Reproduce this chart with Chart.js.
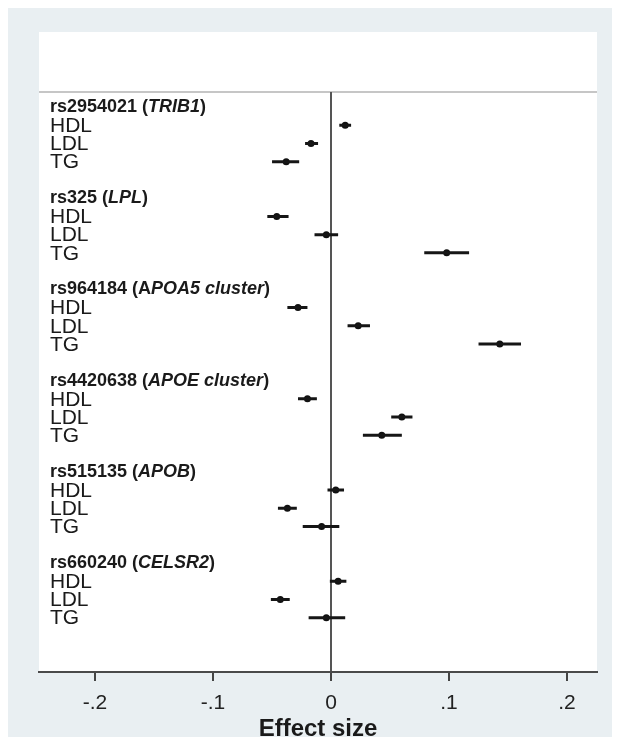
<!DOCTYPE html>
<html lang="en">
<head>
    <meta charset="UTF-8">
    <title>Effect size forest plot</title>
    <style>
        body {
            margin: 0;
            background-color: #ffffff;
        }
        .backdrop {
            position: absolute;
            left: 8px;
            top: 8px;
            width: 604px;
            height: 729px;
            background-color: #e9eff2;
        }
        #forest {
            position: absolute;
            left: 0;
            top: 0;
        }
    </style>
    <script src="https://cdn.jsdelivr.net/npm/chart.js"></script>
</head>
<body>
    <div class="backdrop"></div>
    <canvas id="forest" width="618" height="737"></canvas>

    <script>
        // SNPs and their nearby genes, one block per SNP
        const snps = ['rs2954021', 'rs325', 'rs964184', 'rs4420638', 'rs515135', 'rs660240'];
        const genes = ['TRIB1', 'LPL', 'POA5 cluster', 'APOE cluster', 'APOB', 'CELSR2'];
        const genePrefix = ['', '', 'A', '', '', '']; // upright letter before the italic part
        const traits = ['HDL', 'LDL', 'TG'];

        // Effect sizes with lower / upper confidence limits, per trait, per SNP
        const hdlEffect = [0.012, -0.046, -0.028, -0.020, 0.004, 0.006];
        const hdlLower  = [0.007, -0.054, -0.037, -0.028, -0.003, -0.001];
        const hdlUpper  = [0.017, -0.036, -0.020, -0.012, 0.011, 0.013];

        const ldlEffect = [-0.017, -0.004, 0.023, 0.060, -0.037, -0.043];
        const ldlLower  = [-0.022, -0.014, 0.014, 0.051, -0.045, -0.051];
        const ldlUpper  = [-0.011, 0.006, 0.033, 0.069, -0.029, -0.035];

        const tgEffect = [-0.038, 0.098, 0.143, 0.043, -0.008, -0.004];
        const tgLower  = [-0.050, 0.079, 0.125, 0.027, -0.024, -0.019];
        const tgUpper  = [-0.027, 0.117, 0.161, 0.060, 0.007, 0.012];

        const xTicks = [-0.2, -0.1, 0, 0.1, 0.2];

        // Each SNP takes 5 rows: header, HDL, LDL, TG, blank
        const rowsPerBlock = 5;
        const effects = [hdlEffect, ldlEffect, tgEffect];
        const lowers = [hdlLower, ldlLower, tgLower];
        const uppers = [hdlUpper, ldlUpper, tgUpper];

        const pointData = [];
        const ciData = [];
        snps.forEach((snp, i) => {
            traits.forEach((t, j) => {
                const row = i * rowsPerBlock + j + 1;
                pointData.push({ x: effects[j][i], y: row });
                ciData.push({ x: lowers[j][i], y: row });
                ciData.push({ x: uppers[j][i], y: row });
                ciData.push({ x: null, y: null });
            });
        });

        const fontFamily = '"Liberation Sans", Arial, sans-serif';
        const textColor = '#1a1a1a';

        // White panel behind the plot and the empty strip above it
        const panelPlugin = {
            id: 'panel',
            beforeDraw(chart) {
                const { ctx, chartArea } = chart;
                ctx.save();
                ctx.fillStyle = '#ffffff';
                ctx.fillRect(chartArea.left, 32, chartArea.right - chartArea.left, chartArea.bottom - 32);
                ctx.strokeStyle = '#c6c6c6';
                ctx.lineWidth = 2;
                ctx.beginPath();
                ctx.moveTo(chartArea.left, chartArea.top);
                ctx.lineTo(chartArea.right, chartArea.top);
                ctx.stroke();
                ctx.restore();
            }
        };

        // SNP headers and trait names down the left side
        const rowLabelPlugin = {
            id: 'rowLabels',
            afterDatasetsDraw(chart) {
                const { ctx } = chart;
                const yScale = chart.scales.y;
                const x0 = 50;
                ctx.save();
                ctx.fillStyle = textColor;
                ctx.textBaseline = 'middle';
                ctx.textAlign = 'left';
                snps.forEach((snp, i) => {
                    const yh = yScale.getPixelForValue(i * rowsPerBlock);
                    const parts = [
                        { text: snp + ' (' + genePrefix[i], italic: false },
                        { text: genes[i], italic: true },
                        { text: ')', italic: false }
                    ];
                    let x = x0;
                    parts.forEach(p => {
                        ctx.font = (p.italic ? 'italic ' : '') + 'bold 18px ' + fontFamily;
                        ctx.fillText(p.text, x, yh);
                        x += ctx.measureText(p.text).width;
                    });
                    ctx.font = '21px ' + fontFamily;
                    traits.forEach((t, j) => {
                        const y = yScale.getPixelForValue(i * rowsPerBlock + j + 1) + 1;
                        ctx.fillText(t, x0, y);
                    });
                });
                ctx.restore();
            }
        };

        const ctx = document.getElementById('forest').getContext('2d');
        const forestChart = new Chart(ctx, {
            type: 'scatter',
            data: {
                datasets: [
                    {
                        label: 'CI',
                        data: ciData,
                        showLine: true,
                        spanGaps: false,
                        borderColor: '#161616',
                        borderWidth: 3,
                        pointRadius: 0
                    },
                    {
                        label: 'Effect',
                        data: pointData,
                        showLine: false,
                        backgroundColor: '#111111',
                        borderColor: '#111111',
                        pointRadius: 3.5,
                        borderWidth: 0
                    }
                ]
            },
            options: {
                responsive: false,
                animation: false,
                devicePixelRatio: 1,
                layout: {
                    padding: { left: 39, right: 21, top: 92, bottom: 0 }
                },
                scales: {
                    x: {
                        type: 'linear',
                        min: -0.2475,
                        max: 0.2254,
                        afterBuildTicks(scale) {
                            scale.ticks = xTicks.map(v => ({ value: v }));
                        },
                        afterFit(scale) {
                            scale.height = 65;
                        },
                        border: { display: true, color: '#4a4a4a', width: 2 },
                        grid: {
                            drawOnChartArea: true,
                            color: c => (c.tick && c.tick.value === 0 ? '#555555' : 'rgba(0,0,0,0)'),
                            lineWidth: 2,
                            tickColor: '#444444',
                            tickLength: 9,
                            tickWidth: 2
                        },
                        ticks: {
                            padding: 10,
                            color: '#222222',
                            font: { family: fontFamily, size: 21 },
                            callback: v => {
                                if (Math.abs(v) < 1e-9) return '0';
                                return (v < 0 ? '-' : '') + '.' + Math.round(Math.abs(v) * 10);
                            }
                        },
                        title: {
                            display: true,
                            text: 'Effect size',
                            color: textColor,
                            padding: { top: 0, bottom: -4 },
                            font: { family: fontFamily, size: 24, weight: 'bold', lineHeight: 1 }
                        }
                    },
                    y: {
                        type: 'linear',
                        display: false,
                        reverse: true,
                        min: -0.82,
                        max: 30.98
                    }
                },
                plugins: {
                    legend: { display: false },
                    tooltip: { enabled: false }
                }
            },
            plugins: [panelPlugin, rowLabelPlugin]
        });
    </script>
</body>
</html>
